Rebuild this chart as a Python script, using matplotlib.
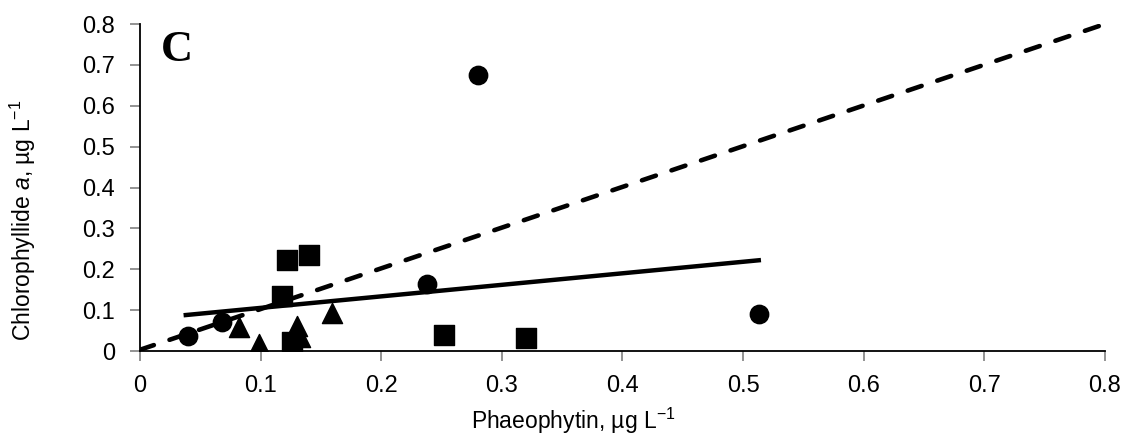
import numpy as np
from matplotlib import pyplot as plt

plt.rcParams['font.family'] = ['Liberation Sans', 'DejaVu Sans']
plt.rcParams['mathtext.fontset'] = 'custom'
plt.rcParams['mathtext.rm'] = 'Liberation Sans'
plt.rcParams['mathtext.it'] = 'Liberation Sans:italic'

# circles
circ_x = [0.040, 0.068, 0.238, 0.280, 0.513]
circ_y = [0.037, 0.071, 0.165, 0.675, 0.090]
# squares
sq_x = [0.122, 0.140, 0.118, 0.126, 0.252, 0.320]
sq_y = [0.222, 0.235, 0.134, 0.022, 0.040, 0.033]
# triangles
tri_x = [0.082, 0.099, 0.130, 0.133, 0.159]
tri_y = [0.059, 0.017, 0.062, 0.035, 0.093]

# trend lines (end points)
solid_x = [0.038, 0.513]
solid_y = [0.088, 0.222]
dash_x = [0.0, 0.8]
dash_y = [0.003, 0.800]

ticks = np.arange(0, 0.81, 0.1)
tick_labels = ['0'] + ['%.1f' % t for t in ticks[1:]]

fig = plt.figure(figsize=(11.26, 4.45), dpi=100)
ax = fig.add_axes([0.1243, 0.2112, 0.857, 0.7348])

ax.plot(dash_x, dash_y, color='black', lw=3.3, linestyle=(0, (3.2, 3.6)),
        dash_capstyle='round', zorder=2)
ax.plot(solid_x, solid_y, color='black', lw=3.2, zorder=2)

ax.scatter(circ_x, circ_y, marker='o', s=175, color='black', zorder=3)
ax.scatter(sq_x, sq_y, marker='s', s=190, color='black', zorder=3)
ax.scatter(tri_x, tri_y, marker='^', s=210, color='black', zorder=3)

ax.set_xlim(0, 0.8)
ax.set_ylim(0, 0.8)
ax.set_xticks(ticks)
ax.set_xticklabels(tick_labels)
ax.set_yticks(ticks)
ax.set_yticklabels(tick_labels)
ax.tick_params(direction='out', length=7, width=1.2, color='#808080',
               labelsize=17)
ax.tick_params(axis='y', pad=11)
ax.tick_params(axis='x', pad=10)

for s in ['top', 'right']:
    ax.spines[s].set_visible(False)
for s in ['left', 'bottom']:
    ax.spines[s].set_linewidth(1.3)

ax.set_xlabel('Phaeophytin, µg L$^{-1}$', fontsize=16.5)
ax.xaxis.set_label_coords(0.449, -0.168)
ax.set_ylabel('Chlorophyllide $\\it{a}$, µg L$^{-1}$', fontsize=16.5)
ax.yaxis.set_label_coords(-0.106, 0.40)

ax.text(0.022, 0.982, 'C', transform=ax.transAxes, fontsize=32,
        fontweight='bold', family='Liberation Serif', va='top', ha='left')

plt.savefig('out.png', dpi=100)
